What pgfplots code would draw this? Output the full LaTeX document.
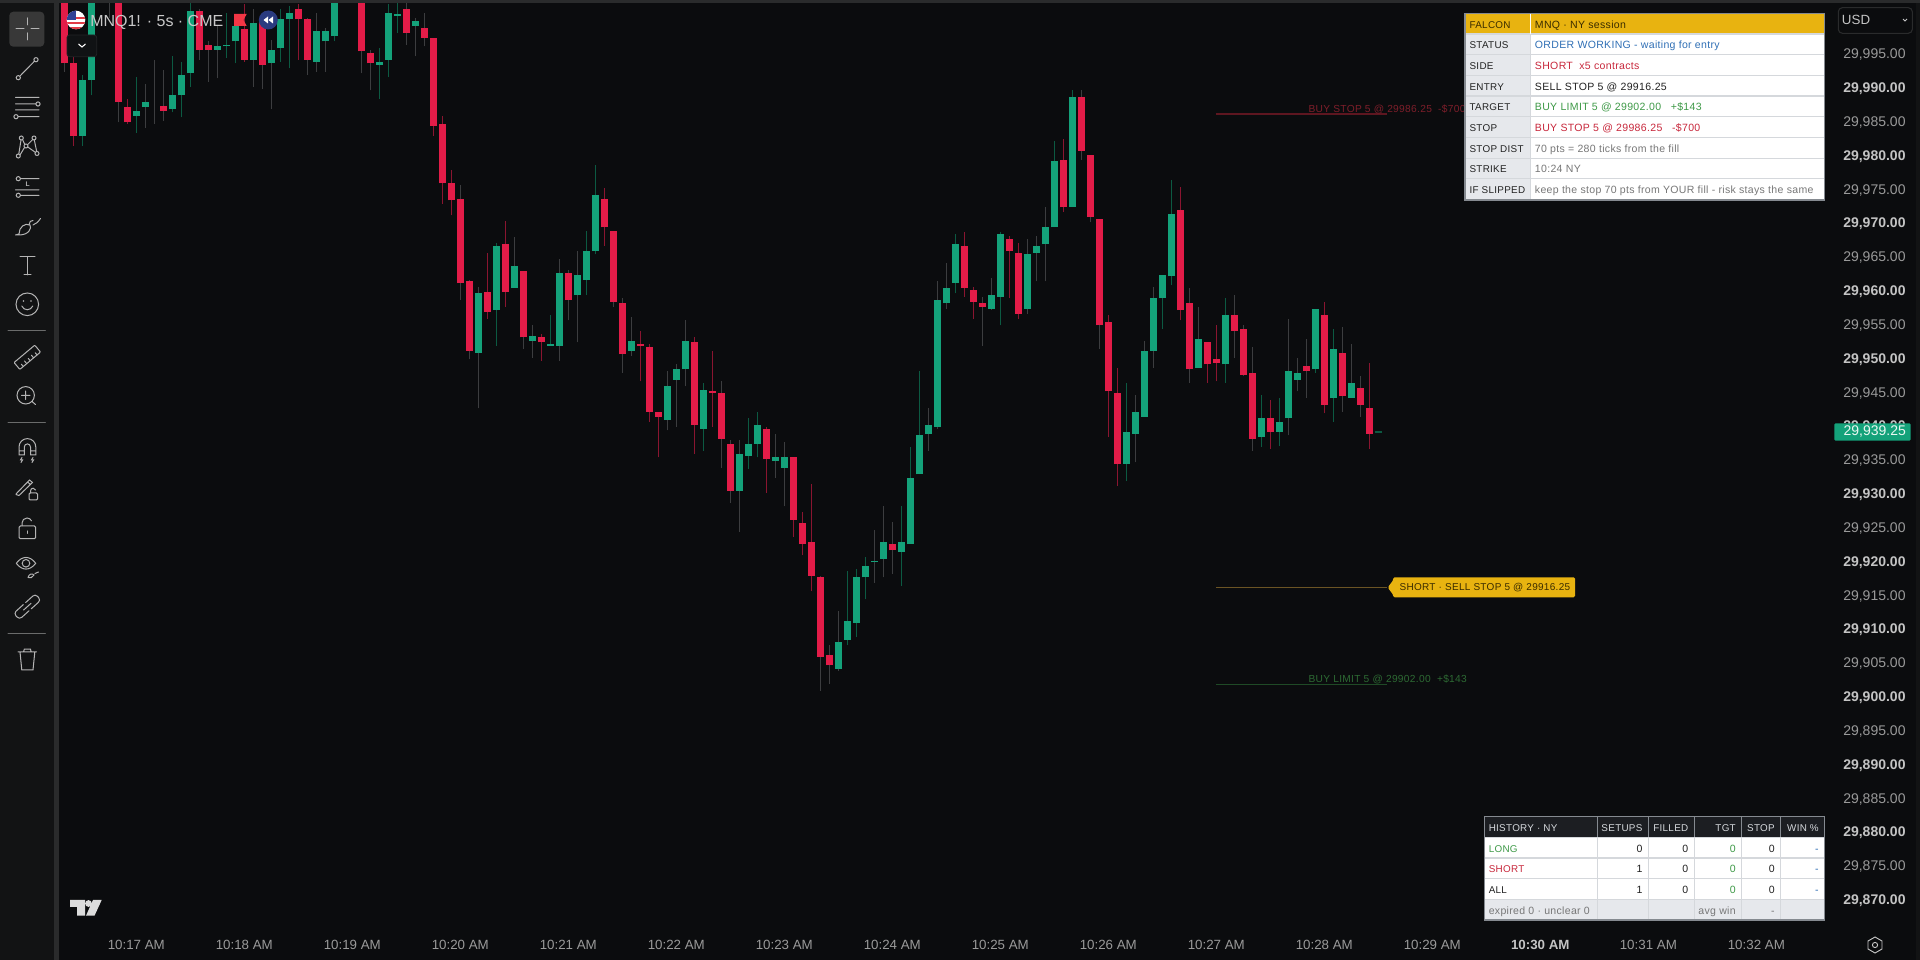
\documentclass[border=0pt]{standalone}
\usepackage{fontspec}
\setmainfont{Liberation Sans}
\newfontfamily\tb{Liberation Sans}[LetterSpace=3]
\usepackage{pgfplots}
\usepackage{pgfplotstable}
\pgfplotsset{compat=1.18}
\definecolor{bgc}{HTML}{0B0C0E}
\definecolor{barc}{HTML}{121314}
\definecolor{divc}{HTML}{2A2B2C}
\definecolor{candG}{HTML}{14A27A}
\definecolor{candR}{HTML}{E31C48}
\definecolor{wickK}{HTML}{3C3D3F}
\definecolor{wickG}{HTML}{0C5A42}
\definecolor{wickR}{HTML}{8A1530}
\definecolor{axt}{HTML}{9A9A9A}
\definecolor{axb}{HTML}{C4C4C4}
\definecolor{icon}{HTML}{B4B4B4}
\definecolor{gold}{HTML}{E8B310}
\definecolor{goldd}{HTML}{3A2C00}
\definecolor{tline}{HTML}{D5D8DC}
\definecolor{tleft}{HTML}{E6E8EC}
\definecolor{tbord}{HTML}{858A90}
\definecolor{tblue}{HTML}{2F6FB5}
\definecolor{tred}{HTML}{C8283C}
\definecolor{tgreen}{HTML}{3F9A48}
\definecolor{tgray}{HTML}{777777}
\definecolor{tblk}{HTML}{222222}
\definecolor{cStop}{HTML}{5E1620}
\definecolor{cEnt}{HTML}{6B5424}
\definecolor{cTgt}{HTML}{1F4A26}
\definecolor{tStop}{HTML}{7D1E2A}
\definecolor{tTgt}{HTML}{2D6A33}
\definecolor{hdr}{HTML}{1C1E22}
\definecolor{pricet}{HTML}{EBF7F2}
\definecolor{logoc}{HTML}{DCDCDC}
\definecolor{flagR}{HTML}{E13C46}
\definecolor{flagB}{HTML}{304296}
\definecolor{titlec}{HTML}{C8C8C8}
\definecolor{flagT}{HTML}{F23645}
\definecolor{circB}{HTML}{2A3B80}
\definecolor{chevL}{HTML}{222426}
\definecolor{chevF}{HTML}{101214}
\definecolor{actc}{HTML}{383838}
\pgfplotstableread{
i o h l c w
-8 30006 30007 29992.5 29993.75 0
-7 29993.75 29994.75 29981.5 29983 2
-6 29983 29992 29981.5 29991.25 1
-5 29991.25 30006 29989 30005 1
-4 30012 30013 30006 30008 0
-3 30008 30010 30000.5 30004 0
-2 30006 30007 29985 29988 0
-1 29987.25 29988.5 29984.75 29985 2
0 29986 29991.75 29983.5 29986.75 1
1 29987.25 29990.75 29984.25 29988 0
2 29987.75 29994.25 29984.75 29987.75 0
3 29987.5 29992.75 29985.25 29986.75 0
4 29987 29994.75 29986.5 29989 1
5 29989 29994 29985.75 29992 1
6 29992.25 30002.75 29990.25 30001.5 1
7 30001.5 30001.75 29994.25 29995.75 0
8 29996.5 29997 29991 29995.75 0
9 29995.75 29999.25 29991.5 29996.25 0
10 29996.25 30001.25 29994.5 29996.5 1
11 29997 30000.25 29993.75 29999.25 1
12 29998.75 30002.5 29994 29994.25 2
13 29994.25 30001.75 29990.25 29999.75 0
14 30000 30001.25 29990 29993.5 0
15 29993.75 29997.25 29987 29995.75 0
16 29996 30001.75 29994 30000.25 1
17 30000.25 30002.25 29993 30001.25 1
18 30001.75 30002.5 29994.25 30000.25 2
19 30000.25 30000.5 29992 29994.25 0
20 29994 30001.25 29992.5 29998.5 0
21 29997 29999 29992.5 29998.5 0
22 29997.75 30005 29997 30004 1
23 30010 30012 30005 30006 0
24 30007 30011 30005 30009 0
25 30006 30007 29992.25 29995.5 0
26 29995.25 29995.75 29989.75 29993.75 0
27 29993.5 29996 29988.5 29994 1
28 29994.25 30002.5 29991.75 30001.25 1
29 30000.75 30002.75 29998.25 30001 1
30 30001.75 30002.75 29996.5 29998.25 0
31 29999.25 30000.5 29994.75 30000 0
32 29999 30001.25 29996.25 29997.5 0
33 29997.5 29997.5 29983 29984.5 2
34 29984.75 29986 29973 29976 2
35 29976 29978 29971.25 29973.5 2
36 29973.75 29975.75 29958.75 29961.25 0
37 29961.5 29961.75 29950 29951.25 0
38 29951 29960.75 29942.75 29959.75 0
39 29960 29965.75 29956 29957 2
40 29957.25 29967.25 29952 29966.75 1
41 29967 29970.5 29957.75 29960 2
42 29960.5 29968 29960.5 29963.75 0
43 29963 29963 29951.5 29953.25 0
44 29952.75 29955 29950.25 29953.5 0
45 29953.25 29953.75 29949.75 29952.5 2
46 29952 29956.5 29952 29952.25 1
47 29952 29964.75 29949.75 29962.75 0
48 29962.75 29963.25 29955.75 29958.75 0
49 29959.5 29966 29952.5 29962.5 0
50 29961.75 29969 29959.5 29966 1
51 29966 29978.75 29965.5 29974.25 1
52 29973.75 29975.25 29966.75 29969.5 2
53 29969 29969 29957.75 29958.5 0
54 29958.25 29959 29948 29950.75 0
55 29951.25 29956.25 29950.5 29952.75 0
56 29952.25 29954.25 29946.75 29952 2
57 29951.75 29952.25 29940.75 29942.25 2
58 29942.25 29942.25 29935.5 29941.5 2
59 29941 29948.25 29939.5 29946 0
60 29947 29949.25 29940 29948.5 0
61 29948.5 29955.75 29946 29952.75 0
62 29952.5 29953.25 29936 29940.25 2
63 29939.75 29946.5 29936.5 29945.5 1
64 29945.25 29951.25 29940 29945 2
65 29945 29946.75 29934 29938.25 0
66 29937.5 29938 29928.75 29930.5 0
67 29930.5 29938 29924.5 29936 0
68 29935.75 29941.25 29933.75 29937.5 1
69 29937.5 29942.25 29935.5 29940.25 1
70 29939.75 29940 29930.25 29935.25 2
71 29935 29939 29932.5 29935.5 0
72 29934 29937.75 29928.25 29935.5 0
73 29935.5 29935.5 29923.75 29926.25 2
74 29925.75 29927.5 29921 29922.75 2
75 29923 29931.5 29915.75 29918 2
76 29917.75 29918 29901 29906 0
77 29906.25 29907.75 29902 29904.75 0
78 29904.25 29912.75 29904 29908.25 0
79 29908.5 29918.75 29907.75 29911.25 1
80 29911 29919 29909 29917.75 1
81 29917.75 29920.75 29914.5 29919.5 1
82 29920 29924.75 29917 29920.25 0
83 29920.5 29928.25 29917.75 29923 0
84 29922.75 29926 29918.25 29921.75 0
85 29921.5 29928.25 29916.5 29923 1
86 29922.75 29937 29922.75 29932.5 1
87 29933 29948.25 29933 29938.75 1
88 29939 29942.75 29936.5 29940.25 0
89 29940 29961.5 29939.75 29958.75 0
90 29958.25 29964.25 29957.5 29960.5 0
91 29961.25 29968.5 29959.75 29967 1
92 29966.75 29968.75 29959.25 29960.5 2
93 29960.25 29960.75 29956 29958.5 2
94 29958.25 29959.25 29952 29957.75 0
95 29957.5 29962 29957.25 29959.5 0
96 29959.25 29968.75 29955 29968.5 1
97 29967.75 29968.25 29959 29966 2
98 29965.75 29967.25 29956 29956.75 2
99 29957.5 29967.75 29956.75 29965.5 0
100 29965.75 29968.25 29961.5 29966.75 0
101 29967 29972.5 29961.5 29969.5 0
102 29969.5 29982.25 29969.5 29979.25 1
103 29979.5 29982.5 29971.75 29972.5 2
104 29972.5 29989.75 29972.5 29988.75 1
105 29988.75 29989.75 29979.5 29980.75 0
106 29980.25 29980.25 29970.25 29971 0
107 29970.75 29970.75 29951.5 29955 0
108 29955.5 29956.5 29938.5 29945.25 2
109 29945 29948.75 29931.25 29934.5 2
110 29934.5 29946.5 29932 29939.25 1
111 29939 29944.75 29934.75 29942.25 0
112 29941.5 29952.75 29941.5 29951.25 0
113 29951.25 29960.75 29948.75 29959 0
114 29959 29962.5 29954.5 29962.5 1
115 29962.25 29976.5 29961 29971.5 1
116 29972 29975.5 29955.75 29957.25 2
117 29958.25 29960.5 29946.5 29948.5 0
118 29948.75 29957.75 29948.75 29953 0
119 29952.5 29952.5 29946.5 29949.25 2
120 29950 29955 29946.75 29949.5 2
121 29949.25 29959 29946.5 29956.5 1
122 29956.5 29959.5 29950.25 29954.25 0
123 29954.5 29955 29947.5 29947.75 0
124 29948 29951.75 29936.5 29938.25 0
125 29938.5 29944.75 29937 29941.25 1
126 29941.25 29944 29936.75 29939.25 2
127 29939.25 29944.25 29937.25 29940.75 1
128 29941.25 29956 29938.75 29948.25 0
129 29947 29950.25 29945.25 29948 0
130 29949 29953 29944.25 29948.25 0
131 29948.5 29957.5 29948 29957.5 1
132 29956.5 29958.5 29942 29943.25 2
133 29944.25 29954.5 29940.75 29951.5 1
134 29951 29954.75 29942.25 29944.5 0
135 29944.25 29952.25 29944.25 29946.5 0
136 29945.75 29947.5 29941.5 29943.25 0
137 29942.75 29949.5 29936.75 29939 2
}\candles
\pgfplotsset{
 wick/.style={forget plot,draw=none,mark=none,
  error bars/.cd,y dir=plus,y explicit,error mark=none,
  error bar style={draw=#1,line width=1pt,solid}},
 body/.style={forget plot,draw=none,mark=none,
  error bars/.cd,y dir=plus,y explicit,error mark=none,
  error bar style={draw=#1,line width=4.9pt,solid}},
}
% values (mixed case, 7.9pt) and capitals labels (7.4pt)
\newcommand\TXT[4][tblk]{\node[anchor=base west,inner sep=0pt,text=#1,font=\fontsize{7.9}{10}\tb] at (#2,#3) {#4};}
\newcommand\TXR[4][tblk]{\node[anchor=base east,inner sep=0pt,text=#1,font=\fontsize{7.9}{10}\tb] at (#2,#3) {#4};}
\newcommand\CAP[4][tblk]{\node[anchor=base west,inner sep=0pt,text=#1,font=\fontsize{7.4}{10}\tb] at (#2,#3) {#4};}
\newcommand\CAR[4][tblk]{\node[anchor=base east,inner sep=0pt,text=#1,font=\fontsize{7.4}{10}\tb] at (#2,#3) {#4};}
\begin{document}
\begin{tikzpicture}
\useasboundingbox (0,0) rectangle (1440pt,720pt);
\fill[bgc] (0,0) rectangle (1440pt,720pt);
\begin{axis}[
  at={(44.25pt,22.5pt)},anchor=south west,
  scale only axis,width=1332pt,height=694.5pt,
  xmin=-8.59,xmax=188.74,ymin=29865.65,ymax=30002.51,
  axis line style={draw=none},major tick length=0pt,
  yticklabel pos=right,
  xtick={0,12,24,36,48,60,72,84,96,108,120,132,144,156,168,180},
  xticklabels={10:17 AM,10:18 AM,10:19 AM,10:20 AM,10:21 AM,10:22 AM,10:23 AM,10:24 AM,10:25 AM,10:26 AM,10:27 AM,10:28 AM,10:29 AM,{\bfseries\textcolor{axb}{10:30 AM}},10:31 AM,10:32 AM},
  ytick={29870,29875,29880,29885,29890,29895,29900,29905,29910,29915,29920,29925,29930,29935,29940,29945,29950,29955,29960,29965,29970,29975,29980,29985,29990,29995},
  yticklabels={{\bfseries\textcolor{axb}{29,870.00}},{29,875.00},{\bfseries\textcolor{axb}{29,880.00}},{29,885.00},{\bfseries\textcolor{axb}{29,890.00}},{29,895.00},{\bfseries\textcolor{axb}{29,900.00}},{29,905.00},{\bfseries\textcolor{axb}{29,910.00}},{29,915.00},{\bfseries\textcolor{axb}{29,920.00}},{29,925.00},{\bfseries\textcolor{axb}{29,930.00}},{29,935.00},{\bfseries\textcolor{axb}{29,940.00}},{29,945.00},{\bfseries\textcolor{axb}{29,950.00}},{29,955.00},{\bfseries\textcolor{axb}{29,960.00}},{29,965.00},{\bfseries\textcolor{axb}{29,970.00}},{29,975.00},{\bfseries\textcolor{axb}{29,980.00}},{29,985.00},{\bfseries\textcolor{axb}{29,990.00}},{29,995.00}},
  y tick label style={anchor=west,inner sep=0pt,xshift=6pt,yshift=0pt,text=axt,font=\fontsize{10.5}{12}\selectfont},
  x tick label style={anchor=center,inner sep=0pt,yshift=-11.5pt,text=axt,font=\fontsize{10}{12}\selectfont},
]
% wicks
\addplot[wick=wickK] table[x expr={\thisrow{w}==0?\thisrow{i}:nan},y=l,y error plus expr=\thisrow{h}-\thisrow{l}] {\candles};
\addplot[wick=wickG] table[x expr={\thisrow{w}==1?\thisrow{i}:nan},y=l,y error plus expr=\thisrow{h}-\thisrow{l}] {\candles};
\addplot[wick=wickR] table[x expr={\thisrow{w}==2?\thisrow{i}:nan},y=l,y error plus expr=\thisrow{h}-\thisrow{l}] {\candles};
% bodies
\addplot[body=candG] table[x expr={\thisrow{c}>\thisrow{o}?\thisrow{i}:nan},y=o,y error plus expr=\thisrow{c}-\thisrow{o}] {\candles};
\addplot[body=candR] table[x expr={\thisrow{c}<\thisrow{o}?\thisrow{i}:nan},y=c,y error plus expr=\thisrow{o}-\thisrow{c}] {\candles};
% forming candle
\addplot[forget plot,wickG,line width=1pt] coordinates {(137.6,29939.25)(138.4,29939.25)};
% order levels
\addplot[forget plot,cStop,line width=.8pt] coordinates {(120,29986.25)(139,29986.25)};
\addplot[forget plot,cEnt,line width=.8pt] coordinates {(120,29916.25)(139,29916.25)};
\addplot[forget plot,cTgt,line width=.8pt] coordinates {(120,29902)(139,29902)};
\end{axis}
\begin{scope}[x=0.75pt,y=-0.75pt,yshift=720pt]
% frame bars
\fill[barc] (0,0) rectangle (54,960);
\fill[divc] (54,0) rectangle (58.5,960);
\fill[divc] (0,0) rectangle (1920,3);
\fill[barc] (1916,3) rectangle (1920,960);
% order level labels
\node[anchor=base west,inner sep=0pt,text=tStop,font=\fontsize{7.65}{10}\tb] at (1308.3,112.5) {BUY STOP 5 @ 29986.25\ \ -\$700};
\node[anchor=base west,inner sep=0pt,text=tTgt,font=\fontsize{7.65}{10}\tb] at (1308.3,682.5) {BUY LIMIT 5 @ 29902.00\ \ +\$143};
\fill[gold,rounded corners=1pt] (1387.7,587.5)--(1393.3,580)--(1393.3,577.3)--(1575,577.3)--(1575,597.3)--(1393.3,597.3)--(1393.3,595)--cycle;
\node[anchor=base west,inner sep=0pt,text=goldd,font=\fontsize{7.5}{10}\tb] at (1399.3,591) {SHORT · SELL STOP 5 @ 29916.25};
% top info table
\fill[white] (1465,13.3) rectangle (1824.3,200);
\fill[tleft] (1465,13.3) rectangle (1530.7,200);
\fill[gold] (1465,13.3) rectangle (1824.3,34);
\foreach \r in {54.7,75.4,96.1,116.8,137.5,158.2,178.9} {\draw[tline,line width=.9pt] (1465,\r) -- (1824.3,\r);}
\draw[tline,line width=.9pt] (1465,34) -- (1824.3,34);
\draw[tline,line width=.6pt] (1530.7,13.3) -- (1530.7,200);
\draw[white,line width=.6pt] (1530.7,13.3) -- (1530.7,34);
\draw[tbord,line width=.8pt] (1465,13.3) rectangle (1824.3,200);
\CAP[goldd]{1469.3}{28.8}{FALCON}\TXT[goldd]{1534.7}{28.8}{MNQ · NY session}
\CAP{1469.3}{48.7}{STATUS}\TXT[tblue]{1534.7}{48.7}{ORDER WORKING - waiting for entry}
\CAP{1469.3}{69.4}{SIDE}\TXT[tred]{1534.7}{69.4}{SHORT\ \ x5 contracts}
\CAP{1469.3}{90.1}{ENTRY}\TXT{1534.7}{90.1}{SELL STOP 5 @ 29916.25}
\CAP{1469.3}{110.8}{TARGET}\TXT[tgreen]{1534.7}{110.8}{BUY LIMIT 5 @ 29902.00\ \ \ +\$143}
\CAP{1469.3}{131.5}{STOP}\TXT[tred]{1534.7}{131.5}{BUY STOP 5 @ 29986.25\ \ \ -\$700}
\CAP{1469.3}{152.2}{STOP DIST}\TXT[tgray]{1534.7}{152.2}{70 pts = 280 ticks from the fill}
\CAP{1469.3}{172.9}{STRIKE}\TXT[tgray]{1534.7}{172.9}{10:24 NY}
\CAP{1469.3}{193.6}{IF SLIPPED}\TXT[tgray]{1534.7}{193.6}{keep the stop 70 pts from YOUR fill - risk stays the same}
% bottom history table
\fill[white] (1484.3,816.7) rectangle (1824.3,920);
\fill[hdr] (1484.3,816.7) rectangle (1824.3,837.4);
\fill[tleft] (1484.3,899.3) rectangle (1824.3,920);
\foreach \r in {837.4,858.1,878.8,899.3} {\draw[tline,line width=.9pt] (1484.3,\r) -- (1824.3,\r);}
\foreach \c in {1597.3,1648.7,1694.3,1741.7,1780.3} {\draw[tline,line width=.6pt] (\c,837.4) -- (\c,920); \draw[tbord,line width=.6pt] (\c,816.7) -- (\c,837.4);}
\draw[tbord,line width=.8pt] (1484.3,816.7) rectangle (1824.3,920);
\CAP[tline]{1488.5}{831.5}{HISTORY · NY}
\CAR[tline]{1642.7}{831.5}{SETUPS}\CAR[tline]{1688.5}{831.5}{FILLED}\CAR[tline]{1736}{831.5}{TGT}\CAR[tline]{1775}{831.5}{STOP}\CAR[tline]{1819}{831.5}{WIN \%}
\CAP[tgreen]{1488.5}{852.2}{LONG}\TXR{1642.7}{852.2}{0}\TXR{1688.5}{852.2}{0}\TXR[tgreen]{1736}{852.2}{0}\TXR{1775}{852.2}{0}\TXR[tblue]{1819}{852.2}{-}
\CAP[tred]{1488.5}{872.9}{SHORT}\TXR{1642.7}{872.9}{1}\TXR{1688.5}{872.9}{0}\TXR[tgreen]{1736}{872.9}{0}\TXR{1775}{872.9}{0}\TXR[tblue]{1819}{872.9}{-}
\CAP{1488.5}{893.6}{ALL}\TXR{1642.7}{893.6}{1}\TXR{1688.5}{893.6}{0}\TXR[tgreen]{1736}{893.6}{0}\TXR{1775}{893.6}{0}\TXR[tblue]{1819}{893.6}{-}
\TXT[tgray]{1488.5}{914.3}{expired 0 · unclear 0}\TXR[tgray]{1736}{914.3}{avg win}\TXR[tgray]{1775}{914.3}{-}
% USD box
\draw[divc,rounded corners=3pt,line width=.8pt] (1838.3,7.7) rectangle (1912.3,33.3);
\node[anchor=base west,inner sep=0pt,text=axb,font=\fontsize{10}{12}\selectfont] at (1841.7,25) {USD};
\draw[axb,line width=.7pt] (1903,19) -- (1905,21) -- (1907,19);
% last price label
\fill[candG,rounded corners=1pt] (1834.3,423.3) rectangle (1910.7,440.7);
\node[anchor=base west,inner sep=0pt,text=pricet,font=\fontsize{10.5}{12}\selectfont] at (1843.3,435.5) {29,939.25};
% settings icon
\draw[axb,line width=.7pt] (1875,937) -- (1882,941) -- (1882,949) -- (1875,953) -- (1868,949) -- (1868,941) -- cycle;
\draw[axb,line width=.7pt] (1875,945) circle[radius=2.6];
% logo
\fill[logoc] (70,900) -- (85,900) -- (85,915.7) -- (77,915.7) -- (77,907) -- (70,907) -- cycle;
\fill[logoc] (88.5,903.5) circle[radius=3.4];
\fill[logoc] (93,900) -- (101.7,900) -- (94.5,915.7) -- (86,915.7) -- cycle;
% title block
\begin{scope}
\clip (76,20) circle[radius=9.3];
\fill[white] (66,10) rectangle (86,30);
\fill[flagR] (66,17) rectangle (86,19.5);
\fill[flagR] (66,22) rectangle (86,24.5);
\fill[flagR] (66,27) rectangle (86,30);
\fill[flagB] (66,10) rectangle (76,20);
\end{scope}
\node[anchor=base west,inner sep=0pt,text=titlec,font=\fontsize{12}{14}\selectfont] at (90,26.5) {MNQ1! · 5s · CME};
\fill[flagT] (234,14) -- (246.7,14) -- (243.5,20) -- (246.7,26) -- (234,26) -- cycle;
\fill[circB] (268.3,20) circle[radius=9.5];
\fill[white] (268,16.5) -- (268,23.5) -- (263.5,20) -- cycle;
\fill[white] (273,16.5) -- (273,23.5) -- (268.5,20) -- cycle;
\draw[chevL,fill=chevF,rounded corners=2pt,line width=.6pt] (67,35) rectangle (96.7,56.7);
\draw[white,line width=.8pt] (78.5,44) -- (82,47) -- (85.5,44);
% toolbar icons
\fill[actc,rounded corners=3pt] (9.3,11.7) rectangle (44.3,46.7);
\begin{scope}[icon,line width=.75pt,line cap=round]
\draw (16,29) -- (24,29) (31,29) -- (39,29) (27.3,18) -- (27.3,25) (27.3,33) -- (27.3,40);
\draw (18.3,77.7) circle[radius=2.1] (36,59.7) circle[radius=2.1] (19.8,76.2) -- (34.5,61.2);
\draw (15.5,97.5) -- (39,97.5) (15.5,104) -- (35.5,104) (38,104) circle[radius=2.1] (15.5,110) -- (39,110) (16,116.7) circle[radius=2.1] (18,116.7) -- (39,116.7);
\draw (18.3,156) circle[radius=2] (21.3,138) circle[radius=2] (34,138) circle[radius=2] (37,153.5) circle[radius=2] (26,146) circle[radius=2];
\draw (18.8,154) -- (21,140) (20,155) -- (24.5,147.5) (22.5,139.5) -- (24.8,144.5) (27.5,144.8) -- (32.8,139.5) (34.3,140) -- (36.7,151.5) (27.8,147) -- (35.3,152.3);
\draw (18.3,178.7) circle[radius=2.1] (20.5,178.7) -- (39,178.7) (15.5,190) -- (39,190) (18.3,195.3) circle[radius=2.1] (20.5,195.3) -- (39,195.3);
\node[icon,inner sep=0pt,font=\fontsize{5}{6}\bfseries] at (27.7,184.5) {L};
\draw (15.5,235) -- (19,234) .. controls (19,227) and (25,222.5) .. (30,225) .. controls (32,228) and (29,235) .. (19,235) -- (15.5,235);
\draw (29,225) .. controls (29,222) and (31,220) .. (33,220.5) (33,225) .. controls (36,224) and (38,222) .. (40.5,218.5);
\draw (20,257) -- (35,257) (27.5,257) -- (27.5,275) (24,275) -- (31,275);
\draw (27.3,304.3) circle[radius=11.3];
\fill (23.5,301) circle[radius=.9] (31,301) circle[radius=.9];
\draw (21.8,306) .. controls (24,311) and (30.5,311) .. (32.8,306);
\draw[divc!70!white] (8,331) -- (45.3,331) (8,422.7) -- (45.3,422.7) (8,633.7) -- (45.3,633.7);
\begin{scope}[shift={(27.3,357.3)},rotate=40]
\draw[rounded corners=.6pt] (-13.5,-4.5) rectangle (13.5,4.5);
\draw (-9,4.5) -- (-9,1.5) (-4.5,4.5) -- (-4.5,1) (0,4.5) -- (0,1.5) (4.5,4.5) -- (4.5,1) (9,4.5) -- (9,1.5);
\end{scope}
\draw (25.7,395.3) circle[radius=8.7] (32,401.5) -- (35.5,404.5) (21.5,395.3) -- (30,395.3) (25.7,391) -- (25.7,399.5);
% magnet
\draw (19,455) -- (19,447) arc[start angle=180,end angle=360,x radius=8.4,y radius=8.4] -- (35.8,455) -- (30.5,455) -- (30.5,447) arc[start angle=0,end angle=-180,x radius=3.1,y radius=3.1] -- (24.3,455) -- cycle (19,451) -- (24.3,451) (30.5,451) -- (35.8,451);
\draw (22,457.5) -- (20.5,460) -- (22.5,460) -- (21,462.5) (33,457.5) -- (31.5,460) -- (33.5,460) -- (32,462.5);
% pencil + lock
\draw (16,494) -- (29.5,480) -- (32.5,482.5) -- (19,495.5) -- (16,494.5) -- cycle (27.5,482) -- (30.5,484.5);
\draw[rounded corners=.8pt] (29,493) rectangle (37.5,500);
\draw (30.5,493) -- (30.5,491) arc[start angle=180,end angle=340,x radius=2.6,y radius=2.8];
% lock
\draw[rounded corners=1pt] (19,526) rectangle (35.7,538.7);
\draw (22,526) -- (22,523) arc[start angle=180,end angle=335,x radius=5,y radius=5];
\draw (27.3,531) -- (27.3,533.5);
% eye
\draw (16.3,563.3) .. controls (22,555.5) and (30,555.5) .. (35.7,563.3) .. controls (30,571) and (22,571) .. (16.3,563.3);
\draw (26,563.3) circle[radius=3.8];
\draw (28,577.5) .. controls (29,574) and (32,573) .. (34,575) .. controls (33,578) and (30,578) .. (28,577.5) (35,573.5) -- (38.5,572);
% link
\begin{scope}[shift={(27.3,606.7)},rotate=42]
\draw[rounded corners=2.4pt] (-1.5,-4.2) -- (-14.5,-4.2) -- (-14.5,4.2) -- (-1.5,4.2);
\draw[rounded corners=2.4pt] (1.5,-4.2) -- (14.5,-4.2) -- (14.5,4.2) -- (1.5,4.2);
\draw (-5,0) -- (5,0);
\end{scope}
% trash
\draw (18,652) -- (36.5,652) (20,652) -- (21.8,670) -- (33,670) -- (34.8,652) (23.5,652) -- (24.3,649.2) -- (30.5,649.2) -- (31.2,652);
\end{scope}
\end{scope}
\end{tikzpicture}
\end{document}
